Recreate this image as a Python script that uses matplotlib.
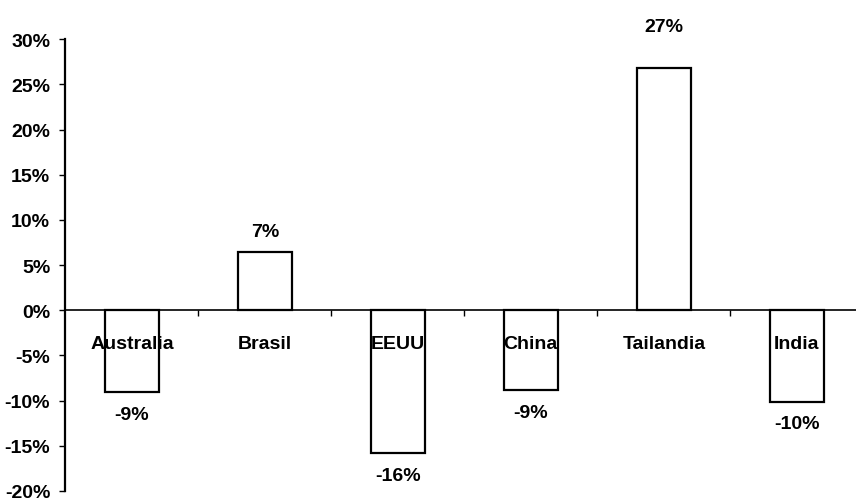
import matplotlib
matplotlib.use("Agg")
from matplotlib import pyplot as plt
from matplotlib.ticker import FuncFormatter
import numpy as np

paises = ["Australia", "Brasil", "EEUU", "China", "Tailandia", "India"]
variacion = [-9.1, 6.5, -15.8, -8.8, 26.8, -10.1]
etiquetas = ["-9%", "7%", "-16%", "-9%", "27%", "-10%"]

plt.rcParams['font.family'] = ['Liberation Sans', 'DejaVu Sans']
plt.rcParams['font.weight'] = 'bold'

fig = plt.figure(figsize=(8.56, 5.02), dpi=100)
ax = fig.add_axes([0.0765, 0.02, 0.932, 0.90])

x = np.arange(len(paises))
barras = ax.bar(x, variacion, width=0.41, color="white", edgecolor="black", linewidth=1.6)

ax.set_xlim(-0.5, 5.5)
ax.set_ylim(-20, 30)
ax.set_yticks(range(-20, 31, 5))
ax.yaxis.set_major_formatter(FuncFormatter(lambda v, p: "%d%%" % v))

ax.spines['top'].set_visible(False)
ax.spines['right'].set_visible(False)
ax.spines['bottom'].set_position(('data', 0))
ax.spines['left'].set_linewidth(1.6)
ax.spines['bottom'].set_linewidth(1.2)

# nombres en el centro, marcas entre categorias
ax.set_xticks(x)
ax.set_xticklabels(paises)
ax.set_xticks(np.arange(0.5, 5.5, 1), minor=True)
ax.tick_params(axis='x', which='major', length=0, pad=18, labelsize=14)
ax.tick_params(axis='x', which='minor', length=4, width=1, direction='out')
ax.tick_params(axis='y', length=4, width=1, labelsize=14, pad=7)
for t in ax.get_xticklabels() + ax.get_yticklabels():
    t.set_fontweight('bold')

for i, v in enumerate(variacion):
    if v >= 0:
        dy = 24 if v > 20 else 8
        ax.annotate(etiquetas[i], (x[i], v), xytext=(0, dy), textcoords='offset points',
                    ha='center', va='bottom', fontsize=14, fontweight='bold')
    else:
        ax.annotate(etiquetas[i], (x[i], v), xytext=(0, -10), textcoords='offset points',
                    ha='center', va='top', fontsize=14, fontweight='bold')

fig.savefig("out.png", dpi=100)
